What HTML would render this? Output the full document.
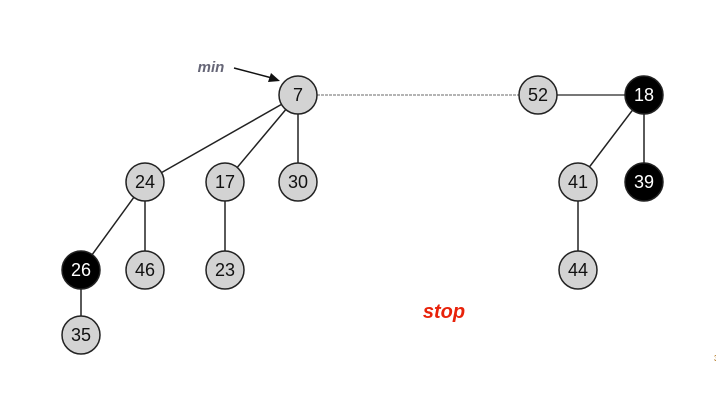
<!DOCTYPE html>
<html><head><style>body{margin:0;background:#fff}</style></head><body>
<svg width="716" height="401" xmlns="http://www.w3.org/2000/svg" font-family="Liberation Sans, DejaVu Sans, sans-serif">
<g stroke="#222" stroke-width="1.5">
<line x1="298" y1="95" x2="145" y2="182"/>
<line x1="298" y1="95" x2="225" y2="182"/>
<line x1="298" y1="95" x2="298" y2="182"/>
<line x1="145" y1="182" x2="81" y2="270"/>
<line x1="145" y1="182" x2="145" y2="270"/>
<line x1="225" y1="182" x2="225" y2="270"/>
<line x1="81" y1="270" x2="81" y2="335"/>
<line x1="644" y1="95" x2="578" y2="182"/>
<line x1="644" y1="95" x2="644" y2="182"/>
<line x1="578" y1="182" x2="578" y2="270"/>
</g>
<line x1="317" y1="95" x2="519" y2="95" stroke="#888" stroke-width="1.2" stroke-dasharray="3,1"/>
<line x1="557" y1="95" x2="625" y2="95" stroke="#777" stroke-width="2"/>
<line x1="234" y1="68" x2="272" y2="78" stroke="#111" stroke-width="1.5"/>
<polygon points="280,81 268,82 271,73" fill="#111"/>
<text x="211" y="72" font-size="15" font-style="italic" font-weight="bold" fill="#667" text-anchor="middle">min</text>
<text x="444" y="318" font-size="20" font-style="italic" font-weight="bold" fill="#e8220a" text-anchor="middle">stop</text>
<g stroke="#222" stroke-width="1.5">
<g fill="#d3d3d3">
<circle cx="298" cy="95" r="19"/><circle cx="538" cy="95" r="19"/>
<circle cx="145" cy="182" r="19"/><circle cx="225" cy="182" r="19"/><circle cx="298" cy="182" r="19"/>
<circle cx="578" cy="182" r="19"/><circle cx="145" cy="270" r="19"/><circle cx="225" cy="270" r="19"/>
<circle cx="578" cy="270" r="19"/><circle cx="81" cy="335" r="19"/>
</g>
<g fill="#000">
<circle cx="644" cy="95" r="19"/><circle cx="644" cy="182" r="19"/><circle cx="81" cy="270" r="19"/>
</g>
</g>
<g font-size="18" text-anchor="middle" fill="#111">
<text x="298" y="101">7</text><text x="538" y="101">52</text>
<text x="145" y="188">24</text><text x="225" y="188">17</text><text x="298" y="188">30</text>
<text x="578" y="188">41</text><text x="145" y="276">46</text><text x="225" y="276">23</text>
<text x="578" y="276">44</text><text x="81" y="341">35</text>
</g>
<g font-size="18" text-anchor="middle" fill="#fff">
<text x="644" y="101">18</text><text x="644" y="188">39</text><text x="81" y="276">26</text>
</g>
<text x="714" y="361" font-size="8" fill="#a60">3</text>
</svg>
</body></html>
